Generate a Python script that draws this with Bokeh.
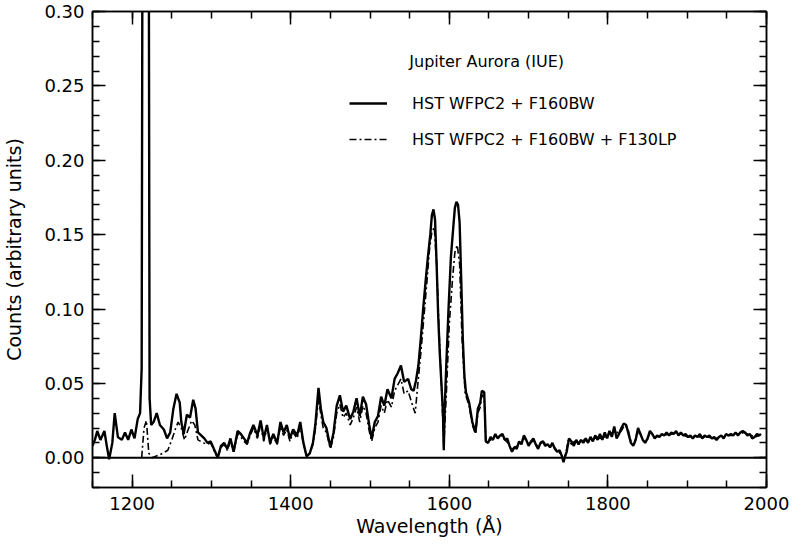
from bokeh.plotting import figure
from bokeh.models import (Range1d, FixedTicker, PrintfTickFormatter, LinearAxis,
                          Span, Legend, LegendItem, Label, ColumnDataSource,
                          CustomLabelingPolicy)
from bokeh.embed import file_html
from bokeh.resources import INLINE

# ---- data ----
lam_f160 = [1150, 1153, 1156, 1160, 1165, 1168, 1171, 1175, 1178, 1182, 1187, 1191, 1195, 1199,
            1203, 1207, 1210, 1212, 1213.5, 1220.5, 1222, 1224, 1227, 1231, 1235, 1240, 1244, 1248,
            1252, 1256, 1260, 1262, 1265, 1269, 1273, 1277, 1280, 1283, 1287, 1291, 1295, 1299,
            1303, 1308, 1312, 1316, 1320, 1324, 1328, 1333, 1337, 1341, 1345, 1349, 1353, 1358,
            1362, 1366, 1370, 1374, 1378, 1383, 1387, 1391, 1395, 1399, 1403, 1408, 1412, 1416,
            1420, 1424, 1428, 1431, 1435, 1438, 1441, 1445, 1450, 1454, 1458, 1462, 1466, 1470,
            1475, 1479, 1483, 1487, 1491, 1495, 1499, 1502, 1506, 1510, 1514, 1518, 1522, 1527,
            1531, 1535, 1539, 1543, 1548, 1552, 1555, 1558, 1561, 1564, 1567, 1570, 1573, 1576,
            1578, 1580, 1582, 1584, 1586, 1588, 1590, 1592, 1593, 1594, 1596, 1599, 1602, 1605,
            1607, 1609, 1611, 1613, 1615, 1617, 1619, 1621, 1625, 1629, 1633, 1636, 1639, 1641,
            1644, 1646, 1649, 1652, 1655, 1658, 1661, 1664, 1667, 1670, 1673, 1676, 1679, 1682,
            1685, 1688, 1691, 1694, 1697, 1700, 1703, 1706, 1709, 1712, 1715, 1718, 1721, 1724,
            1727, 1730, 1733, 1736, 1739, 1742, 1744, 1746, 1748, 1751, 1754, 1757, 1760, 1763,
            1766, 1769, 1772, 1775, 1778, 1781, 1784, 1787, 1790, 1793, 1796, 1799, 1802, 1805,
            1808, 1811, 1814, 1817, 1820, 1823, 1826, 1829, 1832, 1835, 1838, 1841, 1844, 1847,
            1850, 1853, 1856, 1859, 1862, 1865, 1868, 1871, 1874, 1877, 1880, 1883, 1886, 1889,
            1892, 1895, 1898, 1901, 1904, 1907, 1910, 1913, 1916, 1919, 1922, 1925, 1928, 1931,
            1934, 1937, 1940, 1943, 1946, 1949, 1952, 1955, 1958, 1961, 1964, 1967, 1970, 1973,
            1976, 1979, 1982, 1985, 1988, 1991, 1993]
cnt_f160 = [0.008, 0.012, 0.018, 0.012, 0.018, 0.008, -0.001, 0.010, 0.030, 0.014, 0.012, 0.017, 0.012, 0.019,
            0.013, 0.026, 0.030, 0.060, 0.500, 0.500, 0.040, 0.022, 0.024, 0.030, 0.022, 0.019, 0.013, 0.017,
            0.033, 0.043, 0.037, 0.024, 0.016, 0.029, 0.027, 0.039, 0.033, 0.017, 0.015, 0.013, 0.010, 0.011,
            0.006, 0.000, 0.008, 0.010, 0.006, 0.013, 0.004, 0.018, 0.016, 0.013, 0.010, 0.017, 0.022, 0.015,
            0.025, 0.013, 0.022, 0.010, 0.016, 0.010, 0.024, 0.017, 0.022, 0.013, 0.019, 0.015, 0.024, 0.010,
            0.001, 0.003, 0.010, 0.022, 0.047, 0.033, 0.024, 0.020, 0.007, 0.017, 0.035, 0.042, 0.031, 0.035,
            0.026, 0.031, 0.040, 0.028, 0.041, 0.036, 0.022, 0.013, 0.024, 0.028, 0.041, 0.035, 0.046, 0.040,
            0.053, 0.057, 0.062, 0.051, 0.053, 0.046, 0.045, 0.052, 0.062, 0.080, 0.100, 0.118, 0.135, 0.150,
            0.163, 0.167, 0.160, 0.130, 0.095, 0.070, 0.050, 0.030, 0.005, 0.030, 0.060, 0.100, 0.135, 0.155,
            0.168, 0.172, 0.170, 0.158, 0.120, 0.080, 0.055, 0.044, 0.037, 0.024, 0.017, 0.033, 0.037, 0.045,
            0.044, 0.011, 0.010, 0.014, 0.012, 0.016, 0.013, 0.015, 0.016, 0.012, 0.013, 0.008, 0.004, 0.007,
            0.006, 0.011, 0.009, 0.015, 0.012, 0.008, 0.011, 0.013, 0.009, 0.006, 0.010, 0.011, 0.008, 0.009,
            0.007, 0.010, 0.006, 0.004, 0.005, 0.001, -0.003, 0.001, 0.004, 0.013, 0.011, 0.008, 0.012, 0.009,
            0.012, 0.010, 0.013, 0.010, 0.014, 0.011, 0.015, 0.012, 0.016, 0.012, 0.017, 0.013, 0.018, 0.014,
            0.021, 0.013, 0.016, 0.020, 0.023, 0.022, 0.016, 0.010, 0.008, 0.012, 0.020, 0.016, 0.012, 0.010,
            0.013, 0.018, 0.016, 0.013, 0.015, 0.014, 0.016, 0.015, 0.017, 0.015, 0.017, 0.016, 0.018, 0.015,
            0.017, 0.015, 0.016, 0.014, 0.015, 0.013, 0.015, 0.014, 0.016, 0.013, 0.015, 0.014, 0.015, 0.013,
            0.014, 0.012, 0.014, 0.015, 0.013, 0.016, 0.015, 0.016, 0.015, 0.017, 0.015, 0.017, 0.018, 0.017,
            0.015, 0.016, 0.013, 0.014, 0.016, 0.015, 0.016]

lam_f130 = [1212, 1215, 1218, 1221, 1225, 1235, 1245, 1250, 1255, 1258, 1262, 1266, 1270, 1275,
            1279, 1283, 1290, 1295, 1299, 1303, 1308, 1312, 1316, 1320, 1324, 1328, 1333, 1337,
            1341, 1345, 1349, 1353, 1358, 1362, 1366, 1370, 1374, 1378, 1383, 1387, 1391, 1395,
            1399, 1403, 1408, 1412, 1416, 1420, 1424, 1428, 1431, 1435, 1438, 1441, 1445, 1450,
            1454, 1458, 1462, 1466, 1470, 1475, 1479, 1483, 1487, 1491, 1495, 1499, 1502, 1506,
            1510, 1514, 1518, 1522, 1527, 1531, 1535, 1539, 1543, 1548, 1552, 1555, 1557, 1560,
            1564, 1568, 1572, 1575, 1578, 1581, 1584, 1587, 1590, 1593, 1596, 1600, 1604, 1607,
            1610, 1613, 1616, 1620, 1625, 1629, 1633, 1636, 1639, 1641, 1644, 1646, 1650, 1654,
            1658, 1662, 1666, 1670, 1674, 1678, 1682, 1686, 1690, 1694, 1698, 1702, 1706, 1710,
            1714, 1718, 1722, 1726, 1730, 1734, 1738, 1741, 1744, 1747, 1750, 1754, 1758, 1762,
            1766, 1770, 1774, 1778, 1782, 1786, 1790, 1794, 1798, 1802, 1806, 1810, 1814, 1818,
            1821, 1825, 1829, 1833, 1837, 1841, 1845, 1849, 1853, 1857, 1861, 1866, 1871, 1876,
            1881, 1886, 1891, 1896, 1901, 1906, 1911, 1916, 1921, 1926, 1931, 1936, 1941, 1946,
            1951, 1956, 1961, 1966, 1971, 1976, 1981, 1986, 1991]
cnt_f130 = [0.000, 0.020, 0.025, 0.003, 0.000, 0.002, 0.005, 0.012, 0.020, 0.024, 0.020, 0.012, 0.018, 0.025,
            0.022, 0.012, 0.010, 0.009, 0.010, 0.005, 0.000, 0.007, 0.009, 0.005, 0.011, 0.004, 0.016, 0.014,
            0.011, 0.009, 0.015, 0.020, 0.013, 0.022, 0.011, 0.020, 0.009, 0.014, 0.009, 0.021, 0.015, 0.019,
            0.011, 0.017, 0.013, 0.021, 0.009, 0.001, 0.003, 0.009, 0.019, 0.040, 0.029, 0.020, 0.017, 0.006,
            0.014, 0.030, 0.036, 0.027, 0.030, 0.022, 0.027, 0.034, 0.024, 0.035, 0.030, 0.018, 0.011, 0.020,
            0.024, 0.035, 0.030, 0.039, 0.034, 0.045, 0.049, 0.053, 0.043, 0.045, 0.038, 0.033, 0.030, 0.048,
            0.070, 0.095, 0.120, 0.140, 0.152, 0.155, 0.130, 0.085, 0.050, 0.008, 0.040, 0.090, 0.120, 0.138,
            0.143, 0.130, 0.080, 0.043, 0.035, 0.022, 0.016, 0.030, 0.034, 0.042, 0.041, 0.011, 0.011, 0.013,
            0.015, 0.013, 0.015, 0.012, 0.010, 0.005, 0.007, 0.008, 0.010, 0.014, 0.010, 0.009, 0.012, 0.008,
            0.009, 0.011, 0.009, 0.008, 0.009, 0.006, 0.004, 0.002, -0.002, 0.003, 0.012, 0.009, 0.011, 0.010,
            0.011, 0.012, 0.011, 0.013, 0.012, 0.014, 0.013, 0.014, 0.014, 0.016, 0.017, 0.018, 0.016, 0.019,
            0.022, 0.020, 0.011, 0.009, 0.017, 0.016, 0.011, 0.011, 0.017, 0.015, 0.014, 0.015, 0.016, 0.015,
            0.016, 0.017, 0.016, 0.015, 0.014, 0.014, 0.015, 0.014, 0.014, 0.014, 0.013, 0.013, 0.014, 0.014,
            0.015, 0.015, 0.016, 0.016, 0.017, 0.016, 0.015, 0.014, 0.015]

x_major = [1200, 1400, 1600, 1800, 2000]
x_minor = list(range(1150, 2001, 50))
y_major = [0.00, 0.05, 0.10, 0.15, 0.20, 0.25, 0.30]
y_minor = [round(-0.02 + 0.01 * i, 2) for i in range(33)]

title_text = "Jupiter Aurora (IUE)"
name_f160 = "HST WFPC2 + F160BW"
name_f130 = "HST WFPC2 + F160BW + F130LP"

FONT = "DejaVu Sans"

p = figure(width=793, height=540, output_backend="svg", toolbar_location=None,
           x_range=Range1d(1150, 2000), y_range=Range1d(-0.02, 0.30),
           min_border_left=92, min_border_right=20, min_border_top=11, min_border_bottom=53,
           x_axis_label="Wavelength (Å)", y_axis_label="Counts (arbitrary units)")
p.grid.visible = False
p.outline_line_color = "black"
p.outline_line_width = 1.5
p.background_fill_color = "white"
p.border_fill_color = "white"

no_labels = CustomLabelingPolicy(code="""
for (const i of indices) { indices.unset(i) }
return indices
""")

def style_axis(ax, ticks, minor, show_labels):
    ax.ticker = FixedTicker(ticks=ticks, minor_ticks=minor)
    ax.major_tick_in = 13
    ax.major_tick_out = 0
    ax.minor_tick_in = 7
    ax.minor_tick_out = 0
    ax.major_tick_line_width = 1.5
    ax.minor_tick_line_width = 1.5
    ax.axis_line_width = 1.5
    ax.axis_line_color = "black"
    ax.major_tick_line_color = "black"
    ax.minor_tick_line_color = "black"
    ax.major_label_text_font = FONT
    ax.major_label_text_color = "black"
    ax.axis_label_text_font = FONT
    ax.axis_label_text_font_style = "normal"
    ax.axis_label_text_color = "black"
    if not show_labels:
        ax.major_label_policy = no_labels
        ax.major_label_standoff = 0

style_axis(p.xaxis[0], x_major, x_minor, True)
style_axis(p.yaxis[0], y_major, y_minor, True)
p.yaxis[0].formatter = PrintfTickFormatter(format="%.2f")
p.xaxis[0].major_label_text_font_size = "18px"
p.yaxis[0].major_label_text_font_size = "18px"
p.xaxis[0].axis_label_text_font_size = "19px"
p.yaxis[0].axis_label_text_font_size = "19px"
p.xaxis[0].major_label_standoff = 9
p.yaxis[0].major_label_standoff = 8
p.xaxis[0].axis_label_standoff = 2
p.yaxis[0].axis_label_standoff = 16

top = LinearAxis()
right = LinearAxis()
style_axis(top, x_major, x_minor, False)
style_axis(right, y_major, y_minor, False)
p.add_layout(top, "above")
p.add_layout(right, "right")

p.add_layout(Span(location=0, dimension="width", line_color="black", line_width=2))

src160 = ColumnDataSource(dict(x=lam_f160, y=cnt_f160))
src130 = ColumnDataSource(dict(x=lam_f130, y=cnt_f130))
r130 = p.line("x", "y", source=src130, line_color="black", line_width=1.6, line_dash="7 3 2 3")
r160 = p.line("x", "y", source=src160, line_color="black", line_width=2.4)

legend = Legend(items=[LegendItem(label=name_f160, renderers=[r160]),
                       LegendItem(label=name_f130, renderers=[r130])],
                location=(257, 338), orientation="vertical",
                border_line_color=None, background_fill_alpha=0,
                padding=0, margin=0, spacing=16, glyph_width=38, glyph_height=20,
                label_height=20, label_standoff=25,
                label_text_font=FONT, label_text_font_size="16px", label_text_color="black")
p.add_layout(legend, "center")

p.add_layout(Label(x=1549.5, y=0.2667, text=title_text, text_font=FONT, text_font_size="16px",
                   text_baseline="middle", text_align="left", text_color="black"))

open("out.html", "w").write(file_html(p, INLINE))
